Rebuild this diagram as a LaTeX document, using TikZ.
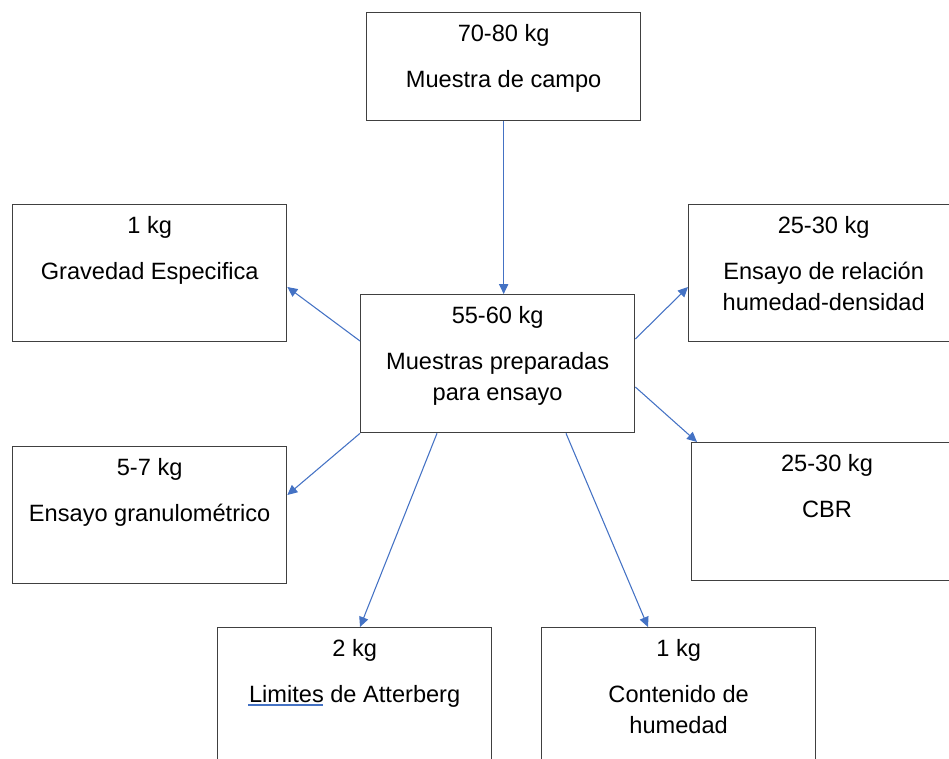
\documentclass[tikz,border=0pt]{standalone}
\usepackage{fontspec}
\setmainfont{Liberation Sans}
\usetikzlibrary{arrows.meta,calc}
\definecolor{flowblue}{RGB}{68,114,196}
\definecolor{boxline}{RGB}{64,64,64}

\begin{document}
\begin{tikzpicture}[x=0.75pt,y=-0.75pt,
  box/.style={draw=boxline,line width=1pt,anchor=north west,minimum width=205.5pt,minimum height=102.75pt,inner sep=0pt},
  txt/.style={anchor=north,align=center,inner sep=0pt,font=\fontsize{17.7}{23.25}\selectfont},
  arr/.style={flowblue,line width=0.8pt,-{Triangle[length=7.5pt,width=7pt]}}]
\clip (0,0) rectangle (949,759);

% ============ boxes ============
\node[box,minimum height=81pt] (campo) at (366,12) {};
\node[box,minimum height=103.5pt] (prep) at (360,294) {};
\node[box] (grav) at (12,204) {};
\node[box] (gran) at (12,446) {};
\node[box,minimum width=202.5pt] (rel) at (688,204) {};
\node[box,minimum width=203pt,minimum height=103.5pt] (cbr) at (691,442) {};
\node[box] (att) at (217,627) {};
\node[box] (hum) at (541,627) {};

% ============ texts ============
\node[txt] (campo-t) at ($(campo.north)+(0,12.5)$) {70-80 kg\\[11.25pt]Muestra de campo};
\node[txt] (prep-t) at ($(prep.north)+(0,12.5)$) {55-60 kg\\[11.25pt]Muestras preparadas\\para ensayo};
\node[txt] (grav-t) at ($(grav.north)+(0,12.5)$) {1 kg\\[11.25pt]Gravedad Especifica};
\node[txt] (gran-t) at ($(gran.north)+(0,12.5)$) {5-7 kg\\[11.25pt]Ensayo granulométrico};
\node[txt] (rel-t) at ($(rel.north)+(0,12.5)$) {25-30 kg\\[11.25pt]Ensayo de relación\\humedad-densidad};
\node[txt] (cbr-t) at ($(cbr.north)+(0,12.5)$) {25-30 kg\\[11.25pt]CBR};
\node[txt] (att-t) at ($(att.north)+(0,12.5)$) {2 kg\\[11.25pt]Limites de Atterberg};
\node[txt] (hum-t) at ($(hum.north)+(0,12.5)$) {1 kg\\[11.25pt]Contenido de\\humedad};
% spell-check mark under "Limites"
\draw[flowblue,line width=1.1pt] ($(att.north west)+(31,78)$) -- ($(att.north west)+(106,78)$);

% ============ arrows ============
\draw[arr] (campo.south) -- (campo.south |- prep.north);
\draw[arr] ($(prep.north west)+(0,47)$) -- ($(grav.north east)+(0,83)$);
\draw[arr] (prep.south west) -- ($(gran.north east)+(0,49)$);
\draw[arr] ($(prep.north east)+(0,45)$) -- ($(rel.north west)+(0,83)$);
\draw[arr] ($(prep.north east)+(0,93)$) -- ($(cbr.north west)+(6,0)$);
\draw[arr] ($(prep.south west)+(77,0)$) -- ($(att.north west)+(143,0)$);
\draw[arr] ($(prep.south west)+(206,0)$) -- ($(hum.north west)+(107,0)$);

\end{tikzpicture}
\end{document}
